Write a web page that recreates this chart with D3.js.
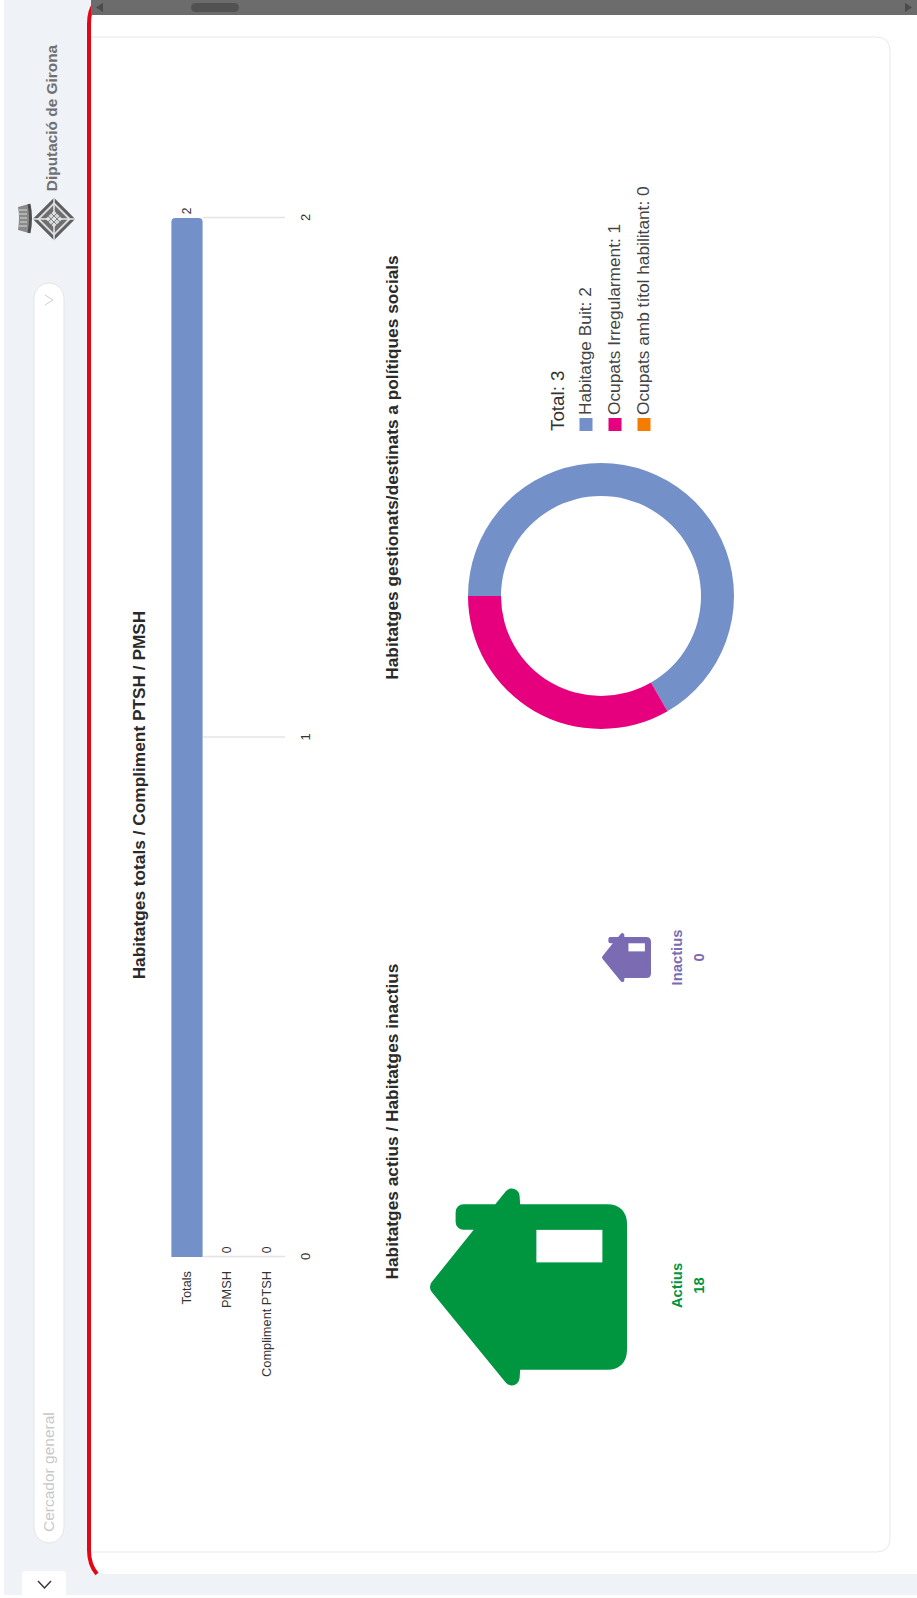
<!DOCTYPE html>
<html>
<head>
<meta charset="utf-8">
<script src="https://cdn.jsdelivr.net/npm/d3@7"></script>
<style>
  html, body { margin: 0; padding: 0; background: #fff; }
  svg { display: block; }
  text { font-family: "Liberation Sans", Arial, sans-serif; }
</style>
</head>
<body>
<div id="chart"></div>
<script>
const W = 917, H = 1598;

// bars
const barCategories = ["Totals", "PMSH", "Compliment PTSH"];
const barValues = [2, 0, 0];
const barTicks = [0, 1, 2];

// donut
const donutLabels = ["Habitatge Buit", "Ocupats Irregularment", "Ocupats amb títol habilitant"];
const donutValues = [2, 1, 0];
const donutColors = ["#7490c8", "#e6007e", "#f57c00"];
const donutTotal = 3;

// house icons
const houseLabels = ["Actius", "Inactius"];
const houseValues = [18, 0];
const houseColors = ["#009640", "#7b6bb2"];

const svg = d3.select("#chart").append("svg").attr("width", W).attr("height", H);

// ---- page chrome ----
svg.append("rect").attr("x", 4).attr("y", 0).attr("width", W - 4).attr("height", 1595).attr("fill", "#eff2f6");

// white panel + red edge
svg.append("path")
    .attr("d", "M104 0 H917 V1574 H104 Q89 1570 89 1550 V24 Q89 4 104 0 Z")
    .attr("fill", "#fff");
svg.append("path")
    .attr("d", "M95 3 Q89 10 89 24 V1550 Q89 1565 97 1574")
    .attr("fill", "none").attr("stroke", "#e30613").attr("stroke-width", 4);

// scrollbar
svg.append("rect").attr("x", 91).attr("y", 0).attr("width", W - 91).attr("height", 15).attr("fill", "#6c6c6c");
svg.append("rect").attr("x", 191).attr("y", 3).attr("width", 48).attr("height", 9).attr("rx", 4.5).attr("fill", "#525252");
svg.append("path").attr("d", "M96 7.5 L103 3 V12 Z").attr("fill", "#4c4c4c");
svg.append("path").attr("d", "M912 7.5 L905 3 V12 Z").attr("fill", "#4c4c4c");

// card
svg.append("path")
    .attr("d", "M91 37 H876 Q890 37 890 51 V1538 Q890 1552 876 1552 H91")
    .attr("fill", "#fff").attr("stroke", "#e9e9e9").attr("stroke-width", 1);

// search box
svg.append("rect").attr("x", 34).attr("y", 283).attr("width", 30).attr("height", 1260).attr("rx", 15)
    .attr("fill", "#fff").attr("stroke", "#e3e5e8");
svg.append("path").attr("d", "M45 295 L53 300 L45 305")
    .attr("fill", "none").attr("stroke", "#cfcfcf").attr("stroke-width", 1);

// bottom toggle
svg.append("path").attr("d", "M22 1595 V1575 Q22 1571 26 1571 H62 Q66 1571 66 1575 V1595 Z").attr("fill", "#fff");
svg.append("path").attr("d", "M38 1581 L44.5 1588 L51 1581")
    .attr("fill", "none").attr("stroke", "#333").attr("stroke-width", 1.4);

// logo, diamond + crown
const logo = svg.append("g").attr("transform", "translate(54,219)");
const diamond = (side, fill) => logo.append("rect")
    .attr("x", -side / 2).attr("y", -side / 2).attr("width", side).attr("height", side)
    .attr("transform", "rotate(45)").attr("fill", fill);
diamond(30, "#5f5f5f");
diamond(24, "#d9dbde");
diamond(20, "#6e6e6e");
diamond(12, "#d4d6d9");
logo.append("path").attr("d", "M-21 0 H21 M0 -21 V21").attr("stroke", "#e4e6e8").attr("stroke-width", 1.5);
logo.append("path").attr("d", "M-6 -3 L3 6 M-3 -6 L6 3 M-6 3 L3 -6 M-3 6 L6 -3")
    .attr("stroke", "#858585").attr("stroke-width", 1);
svg.append("path")
    .attr("d", "M18 207 L29 204 Q32 218 29 233 L18 230 Q20 218 18 207 Z")
    .attr("fill", "#8a8a8a");
svg.append("path")
    .attr("d", "M19 210 H27 M19 214 H27 M20 218 H27 M20 222 H27 M19 226 H27")
    .attr("stroke", "#d6d8da").attr("stroke-width", 1);
svg.append("path")
    .attr("d", "M29 204 Q32 218 29 233")
    .attr("fill", "none").attr("stroke", "#4c4c4c").attr("stroke-width", 3);

// ---- everything below sits on a page turned 90 degrees ----
const page = svg.append("g").attr("transform", `translate(0,${H}) rotate(-90)`);

page.append("text").attr("x", H - 118).attr("y", 57)
    .attr("text-anchor", "middle").attr("font-size", 15.4).attr("font-weight", 700).attr("fill", "#707070")
    .text("Diputació de Girona");
page.append("text").attr("x", H - 1532).attr("y", 54)
    .attr("font-size", 15.5).attr("fill", "#c8c8c8")
    .text("Cercador general");

function title(text, cx, y) {
    page.append("text").attr("x", cx).attr("y", y)
        .attr("text-anchor", "middle").attr("font-size", 17.3).attr("font-weight", 700).attr("fill", "#2a2a2a")
        .text(text);
}
title("Habitatges totals / Compliment PTSH / PMSH", H - 795, 145);
title("Habitatges gestionats/destinats a polítiques socials", H - 467.5, 398);
title("Habitatges actius / Habitatges inactius", H - 1121.5, 398);

// ---- bar chart ----
const xBar = d3.scaleLinear().domain([0, 2]).range([H - 1257, H - 218]);
const yBar = d3.scaleBand().domain(barCategories).range([167, 287]).paddingInner(0.22).paddingOuter(0.11);

const xAxis = page.append("g").attr("transform", "translate(0,285)")
    .call(d3.axisBottom(xBar).tickValues(barTicks).tickFormat(d3.format("d")).tickSize(-82).tickPadding(16));
xAxis.select(".domain").remove();
xAxis.selectAll("line").attr("stroke", "#e4e4e4").attr("stroke-width", 1.4);
xAxis.selectAll("text").attr("font-size", 13).attr("font-family", "Liberation Sans").attr("fill", "#333");

const yAxis = page.append("g").attr("transform", `translate(${xBar(0) - 14},0)`)
    .call(d3.axisLeft(yBar).tickSize(0).tickPadding(0));
yAxis.select(".domain").remove();
yAxis.selectAll("text").attr("font-size", 12.8).attr("font-family", "Liberation Sans").attr("fill", "#333");

const barRows = barCategories.map((c, i) => ({ c, v: barValues[i] }));
page.selectAll(".bar").data(barRows.filter(d => d.v > 0)).enter().append("path")
    .attr("class", "bar")
    .attr("fill", "#7490c8")
    .attr("d", d => {
        const x0 = xBar(0), x1 = xBar(d.v), y0 = yBar(d.c), y1 = y0 + yBar.bandwidth(), r = 4;
        return `M${x0} ${y0} H${x1 - r} Q${x1} ${y0} ${x1} ${y0 + r} V${y1 - r} Q${x1} ${y1} ${x1 - r} ${y1} H${x0} Z`;
    });
page.selectAll(".barval").data(barRows).enter().append("text")
    .attr("class", "barval")
    .attr("x", d => xBar(d.v) + 7)
    .attr("y", d => yBar(d.c) + yBar.bandwidth() / 2 + 4)
    .attr("text-anchor", "middle")
    .attr("font-size", 12).attr("fill", "#333")
    .text(d => d.v);

// ---- donut ----
const donut = page.append("g").attr("transform", `translate(${H - 596},601)`);
const pie = d3.pie().sort(null);
const arc = d3.arc().innerRadius(100).outerRadius(133);
donut.selectAll("path").data(pie(donutValues)).enter().append("path")
    .attr("d", arc)
    .attr("fill", (d, i) => donutColors[i]);

const legendX = H - 431;
page.append("text").attr("x", legendX).attr("y", 564).attr("font-size", 18.8).attr("fill", "#333")
    .text("Total: " + donutTotal);
const yLegend = d3.scalePoint().domain(donutLabels).range([586, 644]);
const legend = page.selectAll(".leg").data(donutLabels).enter().append("g").attr("class", "leg")
    .attr("transform", d => `translate(${legendX},${yLegend(d)})`);
legend.append("rect").attr("y", -6.5).attr("width", 13).attr("height", 13)
    .attr("fill", (d, i) => donutColors[i]);
legend.append("text").attr("x", 16).attr("y", 5).attr("font-size", 17.3).attr("fill", "#444")
    .text((d, i) => `${d}: ${donutValues[i]}`);

// ---- house icons, size follows the value ----
const houseSize = d3.scaleLinear().domain([0, 18]).range([49, 197]);
const houseCx = [H - 1287, H - 957.5];
const houseBase = [627, 651];

function houseShape(p) {
    p.moveTo(50, 4);
    p.lineTo(83, 30.5);
    p.lineTo(83, 17);
    p.lineTo(88, 17);
    p.lineTo(88, 35);
    p.lineTo(96, 41.5);
    p.lineTo(88, 42);
    p.lineTo(88, 90);
    p.quadraticCurveTo(88, 96, 82, 96);
    p.lineTo(18, 96);
    p.quadraticCurveTo(12, 96, 12, 90);
    p.lineTo(12, 42);
    p.lineTo(4, 41.5);
    p.closePath();
    return p;
}

const houses = page.selectAll(".house").data(houseValues).enter().append("g").attr("class", "house")
    .attr("transform", (d, i) => {
        const s = houseSize(d);
        return `translate(${houseCx[i] - s / 2},${houseBase[i] - s}) scale(${s / 100})`;
    });
houses.append("path")
    .attr("d", houseShape(d3.path()).toString())
    .attr("fill", (d, i) => houseColors[i])
    .attr("stroke", (d, i) => houseColors[i])
    .attr("stroke-width", 8)
    .attr("stroke-linejoin", "round");
houses.append("rect").attr("x", 62.5).attr("y", 54).attr("width", 16.5).attr("height", 33.5).attr("fill", "#fff");

const houseText = page.selectAll(".house-label").data(houseLabels).enter().append("g").attr("class", "house-label")
    .attr("text-anchor", "middle").attr("font-size", 14.8).attr("font-weight", 700)
    .attr("fill", (d, i) => houseColors[i])
    .attr("transform", (d, i) => `translate(${houseCx[i] + (i === 0 ? 1.5 : 0)},0)`);
houseText.append("text").attr("y", 682).text(d => d);
houseText.append("text").attr("y", 704).text((d, i) => houseValues[i]);
</script>
</body>
</html>
